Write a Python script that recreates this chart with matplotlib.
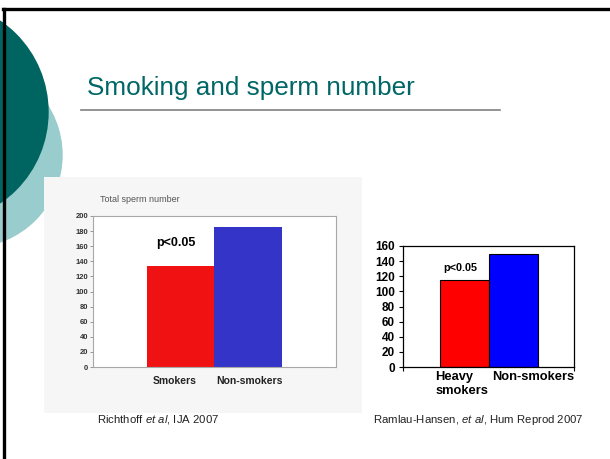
import matplotlib
matplotlib.use("Agg")
import matplotlib.pyplot as plt
from matplotlib.patches import Circle, Rectangle
from matplotlib.lines import Line2D

plt.rcParams['font.family'] = ['Liberation Sans', 'DejaVu Sans']
plt.rcParams['mathtext.fontset'] = 'custom'
plt.rcParams['mathtext.rm'] = 'Liberation Sans'
plt.rcParams['mathtext.it'] = 'Liberation Sans:italic'

# ---- data ----
title = "Smoking and sperm number"
left_categories = ["Smokers", "Non-smokers"]
left_values = [134, 185]
left_yticks = [0, 20, 40, 60, 80, 100, 120, 140, 160, 180, 200]
left_ylabel = "Total sperm number"

right_categories = ["Heavy\nsmokers", "Non-smokers"]
right_values = [115, 150]
right_yticks = [0, 20, 40, 60, 80, 100, 120, 140, 160]

pval = "p<0.05"
left_source = r"Richthoff $\it{et\ al}$, IJA 2007"
right_source = r"Ramlau-Hansen, $\it{et\ al}$, Hum Reprod 2007"

W, H = 610, 459
fig = plt.figure(figsize=(W / 100, H / 100), dpi=100)
fig.patch.set_facecolor("white")

# background slide axes in pixel coords
bg = fig.add_axes([0, 0, 1, 1], zorder=0)
bg.set_xlim(0, W)
bg.set_ylim(H, 0)
bg.axis("off")

bg.add_patch(Circle((-30, 155), 92, color="#99cccc", zorder=1))
bg.add_patch(Circle((-62, 112), 110, color="#006461", zorder=2))
bg.add_patch(Rectangle((44, 177), 318, 236, color="#f6f6f6", zorder=3, lw=0))
# slide border
bg.add_line(Line2D([3, W], [9, 9], color="black", lw=2.4, zorder=5))
bg.add_line(Line2D([4, 4], [9, H], color="black", lw=2.4, zorder=5))
# title
bg.text(87, 88, title, fontsize=18.8, color="#006666", va="center", ha="left", zorder=5)
bg.add_line(Line2D([81, 500], [110, 110], color="#808080", lw=1.2, zorder=5))
# sources
bg.text(97, 420, left_source, fontsize=8.2, color="#222222", va="center", ha="left", zorder=5)
bg.text(373, 420, right_source, fontsize=8.2, color="#222222", va="center", ha="left", zorder=5)


def frac(x0, y0, x1, y1):
    return [x0 / W, (H - y1) / H, (x1 - x0) / W, (y1 - y0) / H]


# ---- left chart ----
ax1 = fig.add_axes(frac(93, 216, 336, 367), zorder=2)
ax1.set_facecolor("white")
xs = list(range(len(left_categories)))
ax1.bar(xs, left_values, width=1.0, color=["#f01212", "#3434c8"], edgecolor="none")
ax1.set_xlim(-1.29, 2.29)
ax1.set_ylim(0, 200)
ax1.set_yticks(left_yticks)
ax1.set_yticklabels([str(v) for v in left_yticks], fontsize=5.5, fontweight="bold", color="#333333")
ax1.tick_params(axis="y", length=2, width=0.6, color="#888888", pad=1.5)
ax1.set_xticks([])
for s in ax1.spines.values():
    s.set_color("#a8a8a8")
    s.set_linewidth(0.8)
for i, c in enumerate(left_categories):
    ax1.annotate(c, xy=(i, 0), xycoords=("data", "axes fraction"), xytext=(-4 if i == 0 else 1, -10),
                 textcoords="offset points", ha="center", va="center", fontsize=7.5,
                 fontweight="bold", color="#222222")
ax1.text(0.03, 1.11, left_ylabel, transform=ax1.transAxes, fontsize=6.5, color="#555555",
         ha="left", va="center")

# ---- right chart ----
ax2 = fig.add_axes(frac(403, 246, 574, 367), zorder=2)
ax2.set_facecolor("white")
xs2 = list(range(len(right_categories)))
ax2.bar(xs2, right_values, width=1.0, color=["#ff0000", "#0000ff"], edgecolor="black", linewidth=0.8)
ax2.set_xlim(-1.255, 2.235)
ax2.set_ylim(0, 160)
ax2.set_yticks(right_yticks)
ax2.set_yticklabels([str(v) for v in right_yticks], fontsize=8.5, fontweight="bold")
ax2.tick_params(axis="y", length=3, width=0.8, pad=3)
ax2.set_xticks([-1.255, 2.235])
ax2.set_xticklabels([])
ax2.tick_params(axis="x", length=3, width=0.8)
for s in ax2.spines.values():
    s.set_color("black")
    s.set_linewidth(0.9)
ax2.annotate(right_categories[0], xy=(0, 0), xycoords=("data", "axes fraction"), xytext=(-2, -3),
             textcoords="offset points", ha="center", va="top", fontsize=9.3,
             fontweight="bold", multialignment="left", linespacing=1.2)
ax2.annotate(right_categories[1], xy=(1, 0), xycoords=("data", "axes fraction"), xytext=(14, -3),
             textcoords="offset points", ha="center", va="top", fontsize=9.3, fontweight="bold")

# p-value annotations (pixel positions on the slide)
fig.text(176 / W, 1 - 243 / H, pval, fontsize=9, fontweight="bold", ha="center", va="center", zorder=6)
fig.text(460 / W, 1 - 268 / H, pval, fontsize=7.8, fontweight="bold", ha="center", va="center", zorder=6)

fig.savefig("out.png", dpi=100)
